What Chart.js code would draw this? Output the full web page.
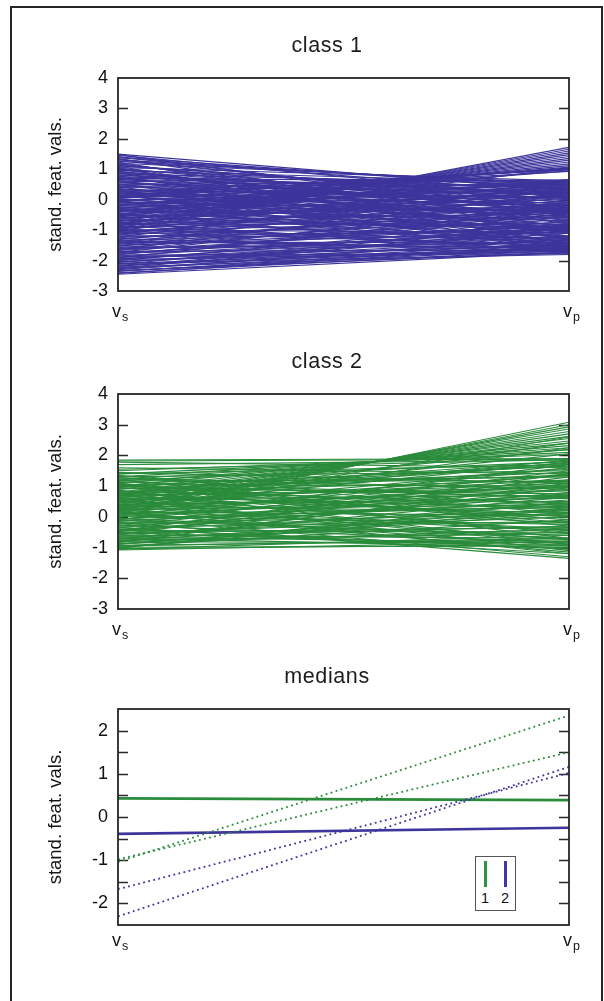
<!DOCTYPE html>
<html>
<head>
<meta charset="utf-8">
<script src="https://cdn.jsdelivr.net/npm/chart.js@4.4.1/dist/chart.umd.min.js"></script>
<style>
  html, body { margin: 0; padding: 0; background: #fff; width: 604px; height: 1001px; overflow: hidden;
    font-family: "Liberation Sans", Arial, Helvetica, sans-serif; }
  #frame { position: absolute; left: 10px; top: 6px; width: 589px; height: 1010px; border: 2px solid #262626; }
  canvas { position: absolute; left: 0; }
  .title { position: absolute; width: 240px; text-align: center; font-size: 21.5px; line-height: 1;
    color: #1c1c1c; letter-spacing: 0.6px; white-space: nowrap; }
  .axlab { position: absolute; font-size: 18px; line-height: 1; color: #151515; white-space: nowrap; }
  .axlab sub { font-size: 12.5px; vertical-align: baseline; position: relative; top: 4px; margin-left: 1px; }
  #legend { position: absolute; left: 475px; top: 856px; width: 39px; height: 53px; border: 1px solid #555;
    background: #fff; }
  #legend .bar { position: absolute; top: 4px; width: 2.5px; height: 26px; }
  #legend .num { position: absolute; top: 34px; width: 14px; text-align: center; font-size: 14.5px; line-height: 1; color: #111; }
</style>
</head>
<body>
<div id="frame"></div>

<canvas id="c1" width="604" height="330" style="top:0px"></canvas>
<canvas id="c2" width="604" height="325" style="top:330px"></canvas>
<canvas id="c3" width="604" height="300" style="top:655px"></canvas>

<div class="title" style="left:207px;top:35px">class 1</div>
<div class="title" style="left:207px;top:351px">class 2</div>
<div class="title" style="left:207px;top:666px">medians</div>

<div class="axlab" style="left:112px;top:302px">v<sub>s</sub></div>
<div class="axlab" style="left:563px;top:302px">v<sub>p</sub></div>
<div class="axlab" style="left:112px;top:620px">v<sub>s</sub></div>
<div class="axlab" style="left:563px;top:620px">v<sub>p</sub></div>
<div class="axlab" style="left:112px;top:931px">v<sub>s</sub></div>
<div class="axlab" style="left:563px;top:931px">v<sub>p</sub></div>

<div id="legend">
  <div class="bar" style="left:8px;background:#2e9443"></div>
  <div class="bar" style="left:28px;background:#3f37a8"></div>
  <div class="num" style="left:2px">1</div>
  <div class="num" style="left:22px">2</div>
</div>

<script>
// Two feature axes of the parallel-coordinates plots
const featureAxes = [0, 1];           // v_s, v_p
const classRange = [-3, 4];
const medianRange = [-2.5, 2.5];

// class 1 samples: [v_s, v_p]
const class1Lines = [
  [1.50,0.30],[1.46,0.05],[1.42,-0.35],[1.38,0.20],[1.35,-0.80],[1.31,0.45],[1.28,-0.10],[1.24,-1.20],
  [1.20,0.55],[1.17,-0.45],[1.13,0.10],[1.10,-1.45],[1.06,0.62],[1.03,-0.25],[1.00,-0.90],[0.97,0.35],
  [0.94,-0.60],[0.91,0.00],[0.88,-1.10],[0.85,0.50],[0.82,-0.30],[0.79,-1.60],[0.76,0.25],[0.73,-0.75],
  [0.70,0.60],[0.67,-0.15],[0.64,-1.30],[0.61,0.40],[0.58,-0.50],[0.55,0.15],[0.52,-1.00],[0.49,0.65],
  [0.46,-0.35],[0.43,-1.70],[0.40,0.30],[0.37,-0.65],[0.34,0.05],[0.31,-1.25],[0.28,0.55],[0.25,-0.20],
  [0.22,-0.85],[0.19,0.45],[0.16,-1.50],[0.13,0.10],[0.10,-0.55],[0.07,0.62],[0.04,-1.05],[0.01,-0.10],
  [-0.02,0.35],[-0.05,-1.40],[-0.08,-0.40],[-0.11,0.20],[-0.14,-0.95],[-0.17,0.58],[-0.20,-0.15],[-0.23,-1.65],
  [-0.26,0.40],[-0.29,-0.70],[-0.32,0.00],[-0.35,-1.20],[-0.38,0.50],[-0.41,-0.30],[-0.44,-1.75],[-0.47,0.25],
  [-0.50,-0.60],[-0.53,0.66],[-0.56,-1.00],[-0.59,-0.05],[-0.62,-1.45],[-0.65,0.35],[-0.68,-0.45],[-0.71,0.10],
  [-0.74,-1.30],[-0.77,0.55],[-0.80,-0.80],[-0.83,-0.20],[-0.86,-1.60],[-0.89,0.45],[-0.92,-0.55],[-0.95,0.05],
  [-0.98,-1.10],[-1.01,0.60],[-1.04,-0.35],[-1.07,-1.50],[-1.10,0.30],[-1.13,-0.75],[-1.16,-0.10],[-1.19,-1.25],
  [-1.22,0.50],[-1.25,-0.50],[-1.28,-1.70],[-1.31,0.15],[-1.34,-0.90],[-1.37,-0.25],[-1.40,-1.40],[-1.43,0.40],
  [-1.46,-0.65],[-1.49,-1.05],[-1.52,0.00],[-1.55,-1.55],[-1.58,-0.40],[-1.61,-1.20],[-1.64,0.25],[-1.67,-0.80],
  [-1.70,-1.65],[-1.73,-0.15],[-1.76,-1.35],[-1.79,-0.55],[-1.82,-1.78],[-1.85,-0.95],[-1.88,-1.50],[-1.91,-0.30],
  [-1.94,-1.20],[-1.97,-1.70],[-2.00,-0.70],[-2.03,-1.45],[-2.06,-1.10],[-2.09,-1.80],[-2.12,-0.85],[-2.15,-1.60],
  [-2.18,-1.30],[-2.21,-1.75],[-2.24,-1.00],[-2.27,-1.55],[-2.30,-1.25],[-2.33,-1.72],[-2.36,-1.45],[-2.40,-1.65],
  [-2.45,-1.72],
  [1.48,-0.55],[1.40,0.35],[1.33,-0.20],[1.26,0.50],[1.19,-0.70],[1.11,0.15],[1.04,-1.30],[0.96,0.55],
  [0.89,-0.40],[0.81,0.20],[0.74,-1.00],[0.66,0.45],[0.59,-0.25],[0.51,-1.40],[0.44,0.50],[0.36,-0.95],
  [0.29,0.20],[0.21,-0.45],[0.14,-1.20],[0.06,0.40],[-0.01,-0.70],[-0.09,-1.55],[-0.16,0.10],[-0.24,-0.35],
  [-0.31,-1.00],[-0.39,0.60],[-0.46,-1.35],[-0.54,-0.20],[-0.61,0.15],[-0.69,-0.90],[-0.76,-1.70],[-0.84,0.30],
  [-0.91,-0.25],[-0.99,-1.35],[-1.06,-0.60],[-1.14,0.45],[-1.21,-1.00],[-1.29,-0.35],[-1.36,-1.60],[-1.44,-0.10],
  [-1.51,-0.85],[-1.59,-1.40],[-1.66,-0.25],[-1.74,-1.05],[-1.81,-0.45],[-1.89,-1.70],[-1.96,-0.90],[-2.04,-1.30],
  [-2.11,-1.55],[-2.19,-0.95],[-2.26,-1.40],[-2.34,-1.60],[-2.42,-1.50],
  // samples rising towards v_p
  [-1.06,1.72],[-0.99,1.66],[-0.92,1.60],[-0.86,1.54],[-0.79,1.48],[-0.72,1.42],[-0.65,1.36],[-0.57,1.30],
  [-0.48,1.24],[-0.40,1.18],[-0.30,1.12],[-0.20,1.07],[-0.08,1.04],[0.05,1.02],[0.15,1.00],[0.25,0.98],
  [-0.50,1.00],[-0.20,0.95],[0.10,0.93],[-0.80,1.05]
];

// class 2 samples: [v_s, v_p]
const class2Lines = [
  [1.85,1.90],[1.82,1.88],[1.78,1.60],[1.70,1.85],[1.60,1.40],[1.55,1.86],
  [1.45,1.10],[1.40,1.70],[1.35,0.10],[1.30,1.50],[1.26,0.90],[1.22,-0.30],[1.18,1.80],
  [1.15,0.60],[1.12,1.30],[1.08,-0.70],[1.05,1.00],[1.02,0.20],[0.99,1.65],[0.96,-0.10],[0.93,0.75],
  [0.90,1.45],[0.87,-0.90],[0.84,0.45],[0.81,1.20],[0.78,0.00],[0.75,1.75],[0.72,-0.50],[0.69,0.95],
  [0.66,0.30],[0.63,1.55],[0.60,-1.10],[0.57,0.70],[0.54,1.10],[0.51,-0.20],[0.48,1.85],[0.45,0.50],
  [0.42,-0.75],[0.39,1.35],[0.36,0.15],[0.33,0.85],[0.30,-1.20],[0.27,1.60],[0.24,0.40],[0.21,-0.45],
  [0.18,1.05],[0.15,0.05],[0.12,-0.95],[0.09,0.65],[0.06,1.40],[0.03,-0.25],[0.00,0.90],[-0.03,-1.30],
  [-0.06,0.35],[-0.09,1.20],[-0.12,-0.60],[-0.15,0.75],[-0.18,-1.35],[-0.21,0.10],[-0.24,1.50],[-0.27,-0.85],
  [-0.30,0.55],[-0.33,-0.15],[-0.36,1.00],[-0.39,-1.05],[-0.42,0.25],[-0.45,-0.50],[-0.48,0.80],[-0.51,-0.95],
  [-0.54,0.00],[-0.57,1.30],[-0.60,-0.70],[-0.63,0.45],[-0.66,-0.30],[-0.69,-1.00],[-0.72,0.65],[-0.75,-0.55],
  [-0.78,0.15],[-0.81,-0.85],[-0.84,1.10],[-0.87,-0.40],[-0.90,0.30],[-0.93,-0.75],[-0.96,-0.10],[-0.99,-0.95],
  [-1.02,0.50],[-1.05,-0.60],[-1.08,-0.80],
  [1.28,0.35],[1.20,1.15],[1.10,-0.20],[1.00,0.65],
  [0.92,1.35],[0.85,-0.55],[0.77,0.85],[0.70,1.70],[0.62,0.10],[0.55,-0.90],[0.47,1.20],[0.40,0.60],
  [0.32,-0.40],[0.25,1.00],[0.17,-1.15],[0.10,0.30],[0.02,1.60],[-0.05,-0.70],[-0.13,0.45],[-0.20,-0.20],
  [-0.28,1.15],[-0.35,-1.20],[-0.43,0.70],[-0.50,-0.35],[-0.58,0.20],[-0.65,-0.85],[-0.73,0.95],[-0.80,-0.50],
  [-0.88,0.10],[-0.95,-0.70],[-1.00,0.25],[-1.04,-0.90],[0.80,1.82],[0.35,1.78],[-0.10,1.70],[-0.45,1.40],
  // samples rising towards v_p
  [0.10,3.08],[0.20,3.00],[0.30,2.93],[0.40,2.86],[0.50,2.78],[0.60,2.70],[0.70,2.62],[0.80,2.55],
  [0.90,2.47],[1.00,2.40],[1.10,2.32],[1.20,2.25],[1.30,2.18],[1.40,2.10],[1.50,2.04],[0.15,2.60],
  [0.45,2.40],[0.75,2.20],[0.25,2.25],[0.55,2.05]
];

// medians (solid) and spread lines (dotted), [v_s, v_p]
const medianGreen = [0.43, 0.39];
const medianBlue = [-0.39, -0.25];
const spreadGreen = [[-1.04, 2.35], [-0.98, 1.50]];
const spreadBlue = [[-1.67, 1.02], [-2.30, 1.16]];

const BLUE = '#3d359c';
const GREEN = '#2a8b3b';
const FONT = '"Liberation Sans", Arial, Helvetica, sans-serif';

// frame and inward tick marks on both vertical sides
const frameTicks = {
  id: 'frameTicks',
  beforeDatasetsDraw(chart) {
    const { ctx, chartArea: a, scales: { y } } = chart;
    ctx.save();
    ctx.strokeStyle = '#2a2a2a';
    ctx.lineWidth = 1.5;
    ctx.beginPath();
    y.ticks.forEach(t => {
      if (t.value <= y.min + 1e-9 || t.value >= y.max - 1e-9) return;
      const py = Math.round(y.getPixelForValue(t.value)) + 0.5;
      ctx.moveTo(a.left, py); ctx.lineTo(a.left + 10, py);
      ctx.moveTo(a.right, py); ctx.lineTo(a.right - 10, py);
    });
    ctx.stroke();
    ctx.restore();
  },
  afterDatasetsDraw(chart) {
    const { ctx, chartArea: a } = chart;
    ctx.save();
    ctx.strokeStyle = '#262626';
    ctx.lineWidth = 1.8;
    ctx.strokeRect(a.left, a.top, a.right - a.left, a.bottom - a.top);
    ctx.restore();
  }
};

function lineSet(lines, color, width, dash) {
  return lines.map(([s, p]) => ({
    data: [{ x: featureAxes[0], y: s }, { x: featureAxes[1], y: p }],
    borderColor: color,
    borderWidth: width,
    borderDash: dash || [],
    showLine: true,
    pointRadius: 0,
    fill: false,
    tension: 0
  }));
}

function makeChart(id, datasets, range, step, padTop, padBottom) {
  return new Chart(document.getElementById(id), {
    type: 'scatter',
    data: { datasets },
    plugins: [frameTicks],
    options: {
      responsive: false,
      animation: false,
      devicePixelRatio: 1,
      layout: { padding: { left: 45, right: 35, top: padTop, bottom: padBottom } },
      plugins: { legend: { display: false }, tooltip: { enabled: false } },
      events: [],
      scales: {
        x: { type: 'linear', min: 0, max: 1, display: false },
        y: {
          type: 'linear', min: range[0], max: range[1],
          afterFit(scale) { scale.width = 73; },
          grid: { display: false, drawTicks: false },
          border: { display: false },
          ticks: {
            stepSize: step, padding: 10, color: '#111', autoSkip: false,
            font: { family: FONT, size: 18 },
            callback: v => Math.abs(v - Math.round(v)) < 1e-6 ? String(Math.round(v)) : ''
          },
          title: {
            display: true, text: 'stand. feat. vals.', color: '#151515',
            font: { family: FONT, size: 18.5 }, padding: { top: 0, bottom: 0 }
          }
        }
      }
    }
  });
}

makeChart('c1', lineSet(class1Lines, BLUE, 1.15), classRange, 1, 78, 39);
makeChart('c2', lineSet(class2Lines, GREEN, 1.15), classRange, 1, 64, 46);

const medianSets = [
  ...lineSet(spreadGreen, GREEN, 1.8, [1.8, 3.4]),
  ...lineSet(spreadBlue, BLUE, 1.8, [1.8, 3.4]),
  ...lineSet([medianGreen], GREEN, 2.6),
  ...lineSet([medianBlue], BLUE, 2.6)
];
makeChart('c3', medianSets, medianRange, 0.5, 54, 30);
</script>
</body>
</html>
